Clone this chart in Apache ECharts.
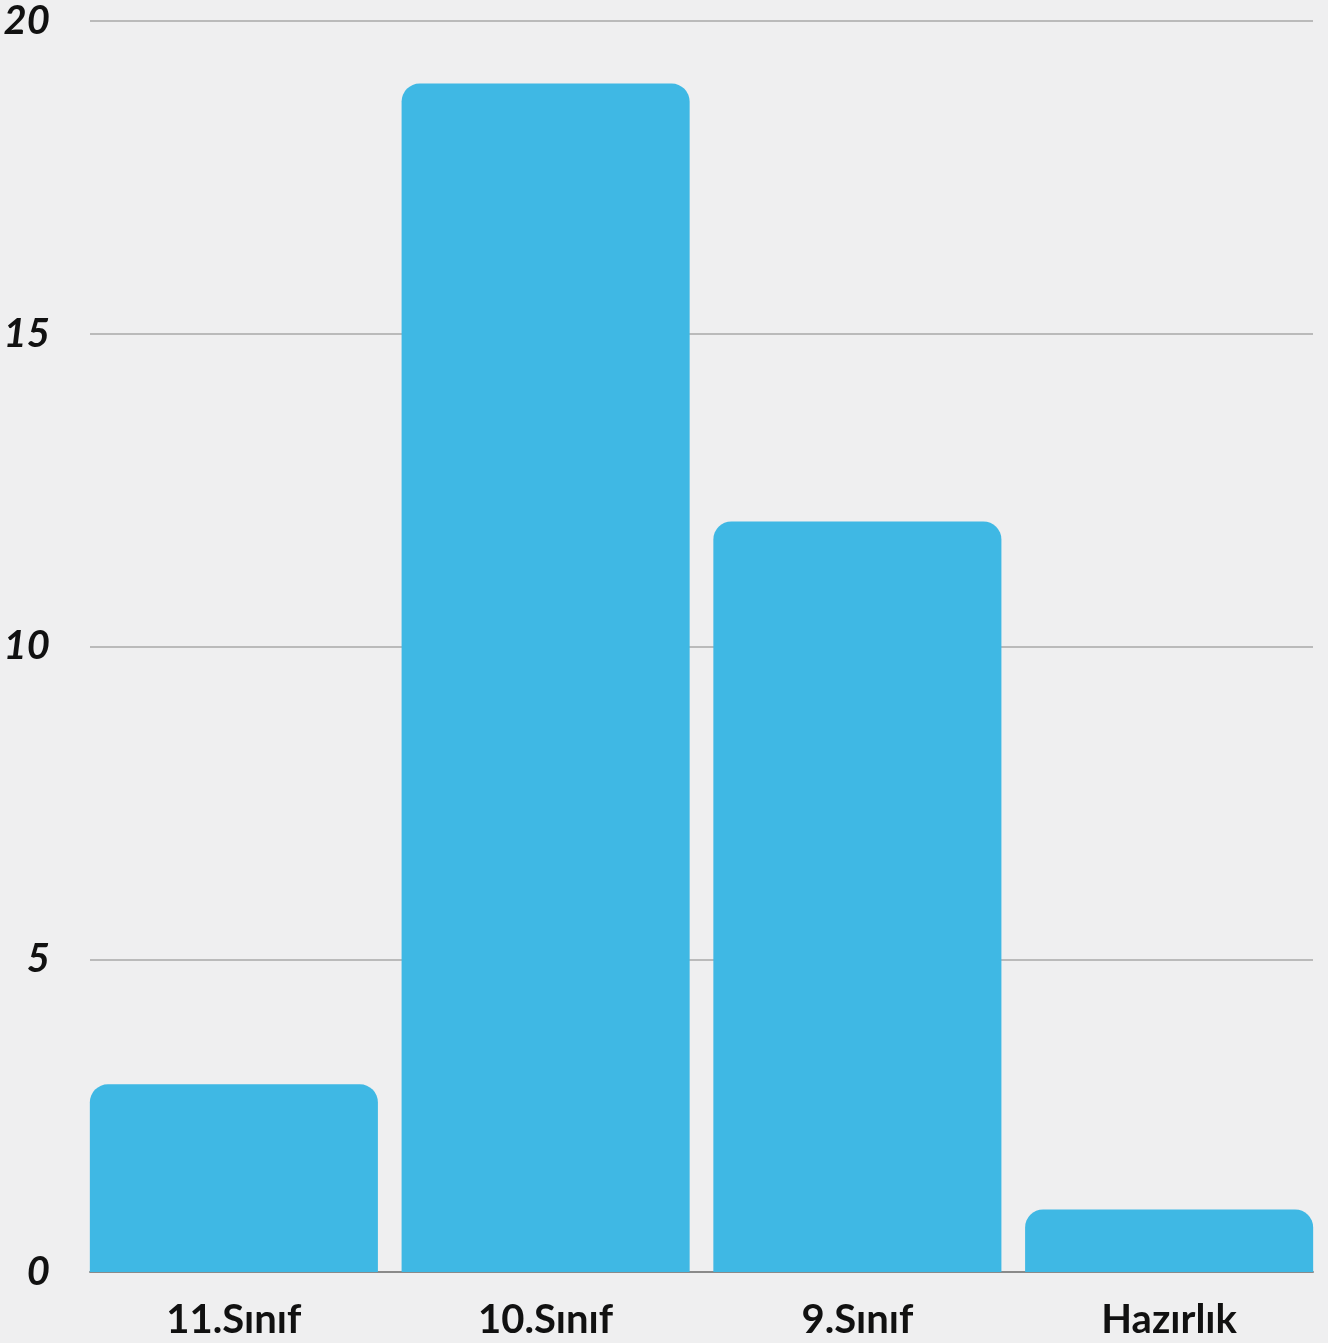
<!DOCTYPE html>
<html>
<head>
<meta charset="utf-8">
<script src="https://cdn.jsdelivr.net/npm/echarts@6/dist/echarts.min.js"></script>
<style>
html,body{margin:0;padding:0;background:#efeff0;}
#chart{width:1328px;height:1343px;}
</style>
</head>
<body>
<div id="chart"></div>
<script>
const categories = ['11.Sınıf', '10.Sınıf', '9.Sınıf', 'Hazırlık'];
const values = [3, 19, 12, 1];
const yTicks = { min: 0, max: 20, interval: 5 };

const chart = echarts.init(document.getElementById('chart'));
chart.setOption({
  backgroundColor: '#efeff0',
  animation: false,
  grid: [
    { left: 78, right: 3, top: 21, bottom: 71 },
    { left: 90, right: 15, top: 21, bottom: 71 }
  ],
  xAxis: [{
    type: 'category',
    gridIndex: 0,
    data: categories,
    axisLine: { show: false },
    axisTick: { show: false },
    axisLabel: {
      color: '#111',
      fontSize: 40,
      fontWeight: 'bold',
      fontFamily: 'Lato',
      margin: 28
    }
  }, {
    type: 'category',
    gridIndex: 1,
    data: categories,
    axisLine: { show: true, lineStyle: { color: '#8a8a8a', width: 2 } },
    axisTick: { show: false },
    axisLabel: { show: false }
  }],
  yAxis: [{
    type: 'value',
    gridIndex: 0,
    min: yTicks.min,
    max: yTicks.max,
    interval: yTicks.interval,
    show: false,
    splitLine: { show: false }
  }, {
    type: 'value',
    gridIndex: 1,
    min: yTicks.min,
    max: yTicks.max,
    interval: yTicks.interval,
    axisLine: { show: false },
    axisTick: { show: false },
    splitLine: { lineStyle: { color: '#a8a8a8', width: 1.5 } },
    axisLabel: {
      color: '#111',
      fontSize: 40,
      fontWeight: 'bold',
      fontStyle: 'italic',
      fontFamily: 'Lato',
      margin: 40
    }
  }],
  series: [{
    type: 'bar',
    xAxisIndex: 0,
    yAxisIndex: 0,
    data: values,
    barCategoryGap: '7.6%',
    z: 3,
    itemStyle: { color: '#3fb8e4', borderRadius: [18, 18, 0, 0] }
  }]
});
</script>
</body>
</html>
